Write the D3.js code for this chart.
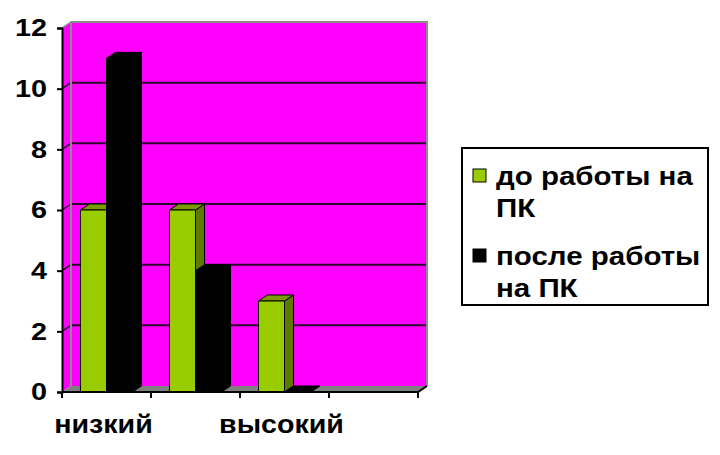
<!DOCTYPE html>
<html>
<head>
<meta charset="utf-8">
<script src="https://cdn.jsdelivr.net/npm/d3@7"></script>
<style>
  html, body { margin: 0; padding: 0; background: #ffffff; }
  svg { display: block; }
  text { font-family: "Liberation Sans", Arial, sans-serif; font-weight: bold; fill: #000; }
</style>
</head>
<body>
<div id="chart"></div>
<script>
// ---- data ----
const categories = ["низкий", "средний", "высокий", ""];
const shownLabels = ["низкий", "", "высокий", ""];
const seriesNames = ["до работы на ПК", "после работы на ПК"];
const legendLines = [["до работы на", "ПК"], ["после работы", "на ПК"]];
const beforeValues = [6, 6, 3, null];
const afterValues = [11, 4, 0, null];
const yTickValues = [0, 2, 4, 6, 8, 10, 12];

// ---- styles ----
const colors = [
  { front: "#99CC00", side: "#5E7A00", top: "#7A9A00", stroke: "#000" },
  { front: "#000000", side: "#000000", top: "#000000", stroke: "#000" }
];
const W = 720, H = 455;
const pLeft = 62, pRight = 418, pBottom = 392, pTop = 28;
const DX = 9, DY = -6;
const SX = 1.2;

const svg = d3.select("#chart").append("svg").attr("width", W).attr("height", H);

const x = d3.scaleBand().domain(categories).range([pLeft, pRight]).paddingInner(0).paddingOuter(0);
const xs = d3.scaleBand().domain([0, 1]).range([0, x.bandwidth()]).paddingInner(0).paddingOuter(0.71);
const y = d3.scaleLinear().domain([0, 12]).range([pBottom, pTop]);

// back wall
svg.append("rect").attr("x", pLeft + DX).attr("y", pTop + DY).attr("width", pRight - pLeft).attr("height", pBottom - pTop)
  .attr("fill", "#FF00FF");
// side wall
svg.append("polygon")
  .attr("points", [[pLeft, pTop], [pLeft + DX, pTop + DY], [pLeft + DX, pBottom + DY], [pLeft, pBottom]].join(" "))
  .attr("fill", "#FF00FF");
// floor
svg.append("polygon")
  .attr("points", [[pLeft, pBottom], [pLeft + DX, pBottom + DY], [pRight + DX, pBottom + DY], [pRight, pBottom]].join(" "))
  .attr("fill", "#808080");

// gridlines on back wall + diagonal on side wall
const grid = svg.append("g");
yTickValues.filter(v => v > 0 && v < 12).forEach(v => {
  grid.append("line").attr("x1", pLeft + DX).attr("x2", pRight + DX)
    .attr("y1", y(v) + DY).attr("y2", y(v) + DY).attr("stroke", "#2a0a2a").attr("stroke-width", 2);
  grid.append("line").attr("x1", pLeft).attr("x2", pLeft + DX)
    .attr("y1", y(v)).attr("y2", y(v) + DY).attr("stroke", "#2a0a2a").attr("stroke-width", 1.5);
});
// wall edges (gray)
svg.append("polyline")
  .attr("points", [[pLeft + DX, pBottom + DY], [pLeft + DX, pTop + DY], [pRight + DX, pTop + DY], [pRight + DX, pBottom + DY]].join(" "))
  .attr("fill", "none").attr("stroke", "#8c8c8c").attr("stroke-width", 2);
svg.append("line").attr("x1", pLeft).attr("y1", pTop).attr("x2", pLeft + DX).attr("y2", pTop + DY)
  .attr("stroke", "#8c8c8c").attr("stroke-width", 1.5);

// bars
const series = [beforeValues, afterValues];
const barsG = svg.append("g");
categories.forEach((c, i) => {
  series.forEach((vals, s) => {
    const v = vals[i];
    if (v === null || v === undefined) return;
    const bx = x(c) + xs(s), bw = xs.bandwidth();
    const yt = y(v);
    const col = colors[s];
    const g = barsG.append("g").attr("stroke", col.stroke).attr("stroke-width", 1).attr("stroke-linejoin", "round");
    g.append("polygon").attr("fill", col.side)
      .attr("points", [[bx + bw, yt], [bx + bw + DX, yt + DY], [bx + bw + DX, pBottom + DY], [bx + bw, pBottom]].join(" "));
    g.append("polygon").attr("fill", col.top)
      .attr("points", [[bx, yt], [bx + DX, yt + DY], [bx + bw + DX, yt + DY], [bx + bw, yt]].join(" "));
    g.append("rect").attr("fill", col.front).attr("x", bx).attr("y", yt).attr("width", bw).attr("height", pBottom - yt);
  });
});

// floor front edge
svg.append("polyline")
  .attr("points", [[pLeft, pBottom], [pRight, pBottom], [pRight + DX, pBottom + DY]].join(" "))
  .attr("fill", "none").attr("stroke", "#000").attr("stroke-width", 2);

// y axis
const yAxis = svg.append("g").attr("transform", `translate(${pLeft},0)`)
  .call(d3.axisLeft(y).tickValues(yTickValues).tickSize(5).tickPadding(10));
yAxis.select(".domain").attr("stroke", "#000").attr("stroke-width", 2);
yAxis.selectAll(".tick line").attr("stroke", "#000").attr("stroke-width", 2);
yAxis.selectAll(".tick text")
  .attr("font-size", 24).attr("font-family", "Liberation Sans, Arial, sans-serif").attr("font-weight", "bold")
  .each(function () {
    const t = d3.select(this);
    const xx = +t.attr("x");
    t.attr("x", null).attr("transform", `translate(${xx},0) scale(${SX},1)`);
  });

// x axis: ticks at category boundaries
const boundaries = categories.map(c => x(c)).concat([pRight]);
svg.append("g").selectAll("line").data(boundaries).join("line")
  .attr("x1", d => d).attr("x2", d => d).attr("y1", pBottom).attr("y2", pBottom + 6)
  .attr("stroke", "#000").attr("stroke-width", 2);
const xAxis = svg.append("g").attr("transform", `translate(0,${pBottom})`)
  .call(d3.axisBottom(x).tickSize(0).tickPadding(0).tickFormat((d, i) => shownLabels[i]));
xAxis.select(".domain").remove();
xAxis.selectAll(".tick text")
  .attr("font-size", 26).attr("font-family", "Liberation Sans, Arial, sans-serif").attr("font-weight", "bold")
  .attr("dy", null).attr("y", null)
  .each(function () {
    d3.select(this).attr("transform", `translate(-3,41) scale(1.1,1)`);
  });

// legend
const lg = svg.append("g");
lg.append("rect").attr("x", 462).attr("y", 148).attr("width", 246).attr("height", 157)
  .attr("fill", "#fff").attr("stroke", "#000").attr("stroke-width", 2);
const legendY = [176, 256];
seriesNames.forEach((name, s) => {
  lg.append("rect").attr("x", 473).attr("y", legendY[s] - 7).attr("width", 13).attr("height", 13)
    .attr("fill", colors[s].front).attr("stroke", "#000").attr("stroke-width", 1);
  legendLines[s].forEach((line, k) => {
    lg.append("text").attr("transform", `translate(496,${legendY[s] + 9 + k * 32}) scale(1.18,1)`)
      .attr("font-size", 25).text(line);
  });
});
</script>
</body>
</html>
